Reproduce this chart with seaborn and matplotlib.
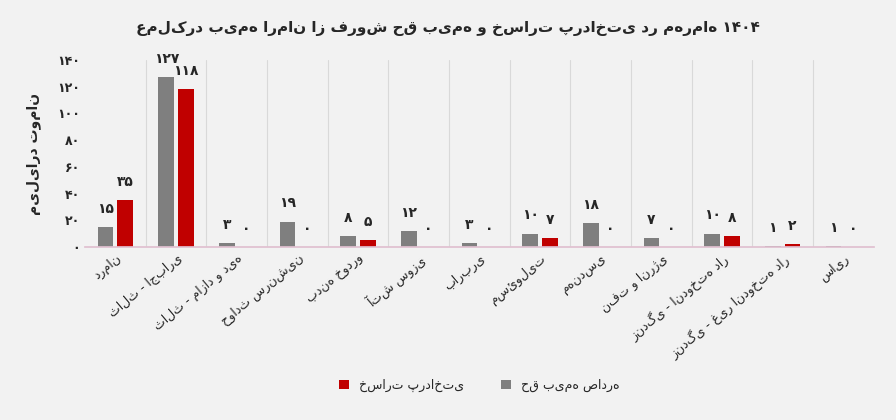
import matplotlib
matplotlib.use("Agg")
import matplotlib.pyplot as plt
import seaborn as sns
import pandas as pd
import numpy as np

categories = ["درمان", "ثالث - اجباری", "ثالث - مازاد و دیه", "حوادث سرنشین", "بدنه خودرو",
              "آتش سوزی", "باربری", "مسئولیت", "مهندسی", "نفت و انرژی",
              "زندگی - اندوخته دار", "زندگی - غیر اندوخته دار", "سایر"]
issued = [15, 127, 3, 19, 8, 12, 3, 10, 18, 7, 10, 1, 1]
paid = [35, 118, 0, 0, 5, 0, 0, 7, 0, 0, 8, 2, 0]
series_names = ["حق بیمه صادره", "خسارت پرداختی"]
yticks = [0, 20, 40, 60, 80, 100, 120, 140]
fa = str.maketrans("0123456789", "۰۱۲۳۴۵۶۷۸۹")

sns.set_theme(style="white")
plt.rcParams['font.family'] = ['DejaVu Sans']

df = pd.DataFrame({"cat": categories * 2,
                   "val": issued + paid,
                   "s": [series_names[0]] * 13 + [series_names[1]] * 13})

fig = plt.figure(figsize=(8.96, 4.2), dpi=100, facecolor="#f2f2f2")
ax = fig.add_axes([0.095, 0.412, 0.88, 0.445])
ax.set_facecolor("#f2f2f2")
sns.barplot(data=df, x="cat", y="val", hue="s", palette=["#7f7f7f", "#c00000"],
            saturation=1, width=0.65, gap=0.2, edgecolor="none", linewidth=0,
            ax=ax, legend=True)
for c in ax.containers:
    ax.bar_label(c, labels=[str(int(v)).translate(fa) for v in c.datavalues],
                 padding=8, fontsize=10, fontweight="bold")
ax.set_ylim(0, 140)
ax.set_yticks(yticks)
ax.set_yticklabels([str(t).translate(fa) for t in yticks], fontsize=9, fontweight="bold")
ax.set_xlim(-0.5, 12.5)
for b in np.arange(0.5, 12.5, 1):
    ax.axvline(b, color="#d9d9d9", lw=0.8)
ax.set_xticks(range(13))
ax.set_xticklabels(categories, rotation=40, ha="right", rotation_mode="anchor", fontsize=9)
ax.tick_params(axis="both", length=0)
ax.set_xlabel("")
ax.set_ylabel("میلیارد تومان", fontsize=10, fontweight="bold", labelpad=12)
for s in ["top", "right", "left"]:
    ax.spines[s].set_visible(False)
ax.spines["bottom"].set_color("#e0c0d0")
h, l = ax.get_legend_handles_labels()
ax.legend(h[::-1], l[::-1], loc="center", bbox_to_anchor=(0.5, -0.74), ncol=2,
          frameon=False, fontsize=9, handlelength=0.8, columnspacing=3)
fig.suptitle("عملکرد بیمه ارمان از فروش حق بیمه و خسارت پرداختی در مهرماه ۱۴۰۴",
             y=0.95, fontsize=11, fontweight="bold")
fig.savefig("out.png", dpi=100, facecolor=fig.get_facecolor())
